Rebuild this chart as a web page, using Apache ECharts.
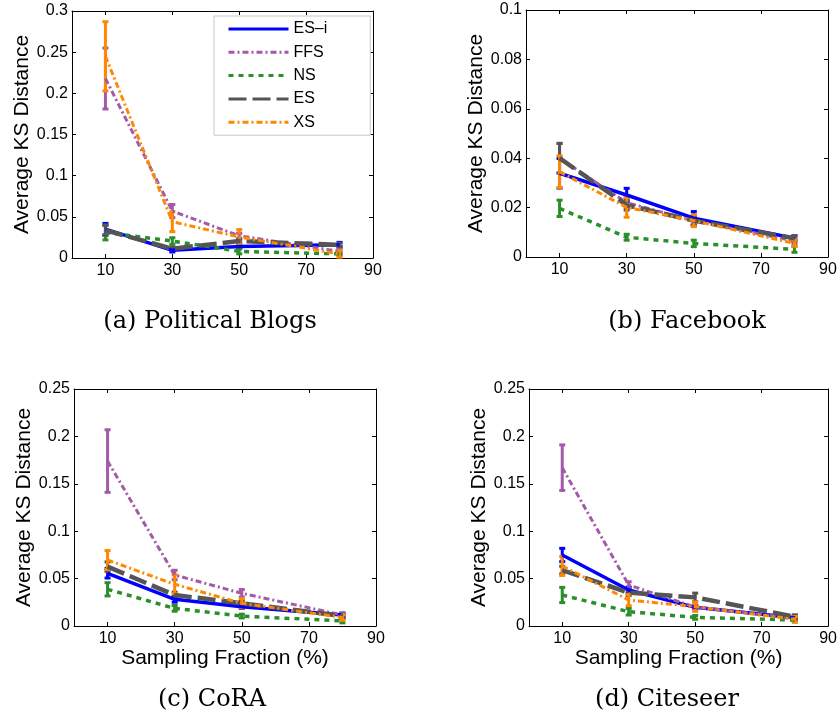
<!DOCTYPE html>
<html><head><meta charset="utf-8">
<script src="https://cdn.jsdelivr.net/npm/echarts@6/dist/echarts.min.js"></script>
<style>html,body{margin:0;padding:0;background:#fff}#c{width:840px;height:715px}</style>
</head><body><div id="c"></div>
<script>
// ---------- data ----------
const fractions = [10, 30, 50, 80];
const xTickValues = [10, 30, 50, 70, 90];
const seriesNames = ['ES–i', 'FFS', 'NS', 'ES', 'XS'];
const panelTitles = ['(a) Political Blogs', '(b) Facebook', '(c) CoRA', '(d) Citeseer'];
const yMaxes = [0.3, 0.1, 0.25, 0.25];
const yIntervals = [0.05, 0.02, 0.05, 0.05];

// (a) Political Blogs: mean values and error half-widths
const blogsESi = [0.035, 0.0093, 0.014, 0.016];
const blogsESiErr = [0.007, 0.002, 0.002, 0.003];
const blogsFFS = [0.218, 0.057, 0.027, 0.008];
const blogsFFSErr = [0.037, 0.008, 0.003, 0.003];
const blogsNS = [0.031, 0.0206, 0.008, 0.005];
const blogsNSErr = [0.009, 0.004, 0.003, 0.002];
const blogsES = [0.0336, 0.0113, 0.0206, 0.016];
const blogsESErr = [0.006, 0.002, 0.002, 0.002];
const blogsXS = [0.245, 0.044, 0.0255, 0.005];
const blogsXSErr = [0.042, 0.012, 0.009, 0.004];

// (b) Facebook
const fbESi = [0.0339, 0.0251, 0.0157, 0.0076];
const fbESiErr = [0.006, 0.0027, 0.0027, 0.001];
const fbFFS = [0.040, 0.022, 0.0147, 0.0065];
const fbFFSErr = [0.006, 0.002, 0.002, 0.001];
const fbNS = [0.0197, 0.008, 0.0055, 0.0031];
const fbNSErr = [0.0033, 0.0012, 0.0013, 0.0012];
const fbES = [0.040, 0.021, 0.0147, 0.0076];
const fbESErr = [0.006, 0.002, 0.002, 0.001];
const fbXS = [0.0345, 0.0201, 0.0147, 0.0055];
const fbXSErr = [0.0065, 0.004, 0.0024, 0.0013];

// (c) CoRA
const coraESi = [0.0556, 0.0281, 0.0204, 0.0116];
const coraESiErr = [0.005, 0.003, 0.002, 0.002];
const coraFFS = [0.174, 0.0538, 0.0345, 0.0116];
const coraFFSErr = [0.033, 0.005, 0.004, 0.002];
const coraNS = [0.0387, 0.0186, 0.0105, 0.0053];
const coraNSErr = [0.007, 0.003, 0.002, 0.002];
const coraES = [0.0626, 0.0327, 0.0239, 0.0105];
const coraESErr = [0.005, 0.003, 0.002, 0.002];
const coraXS = [0.0696, 0.044, 0.0239, 0.0091];
const coraXSErr = [0.01, 0.01, 0.005, 0.003];

// (d) Citeseer
const citeESi = [0.0749, 0.038, 0.0197, 0.0088];
const citeESiErr = [0.007, 0.003, 0.002, 0.002];
const citeFFS = [0.167, 0.0432, 0.020, 0.008];
const citeFFSErr = [0.024, 0.0035, 0.002, 0.002];
const citeNS = [0.0327, 0.0151, 0.0091, 0.0063];
const citeNSErr = [0.008, 0.0035, 0.002, 0.002];
const citeES = [0.059, 0.0352, 0.0302, 0.0098];
const citeESErr = [0.004, 0.003, 0.0045, 0.002];
const citeXS = [0.0633, 0.0274, 0.0204, 0.007];
const citeXSErr = [0.01, 0.006, 0.005, 0.003];

const panelValues = [
  [blogsESi, blogsFFS, blogsNS, blogsES, blogsXS],
  [fbESi, fbFFS, fbNS, fbES, fbXS],
  [coraESi, coraFFS, coraNS, coraES, coraXS],
  [citeESi, citeFFS, citeNS, citeES, citeXS]
];
const panelErrors = [
  [blogsESiErr, blogsFFSErr, blogsNSErr, blogsESErr, blogsXSErr],
  [fbESiErr, fbFFSErr, fbNSErr, fbESErr, fbXSErr],
  [coraESiErr, coraFFSErr, coraNSErr, coraESErr, coraXSErr],
  [citeESiErr, citeFFSErr, citeNSErr, citeESErr, citeXSErr]
];

// ---------- styling / layout ----------
const SANS = 'Liberation Sans, Arial, sans-serif';
const SERIF = 'DejaVu Serif, serif';
const styles = [
  {color: '#0000ff', width: 3.5, type: 'solid'},
  {color: '#a35aa8', width: 3, type: [6, 3, 2, 3]},
  {color: '#2a8f2a', width: 3.5, type: [5, 5]},
  {color: '#555555', width: 4.5, type: [18, 6]},
  {color: '#ff8800', width: 3, type: [6, 3, 2, 3]}
];
const grids = [
  {left: 72, top: 11, width: 301, height: 247},
  {left: 526, top: 10, width: 302, height: 247},
  {left: 74, top: 389, width: 302, height: 237},
  {left: 529, top: 389, width: 301, height: 237}
];
const titlePos = [[210, 322], [687, 322], [212, 700], [667, 700]];

const xAxes = [], yAxes = [], series = [], graphics = [];
grids.forEach((g, i) => {
  const showXName = i >= 2;
  xAxes.push({
    gridIndex: i, type: 'value', min: 0, max: 90, position: 'bottom',
    axisLine: {onZero: false, lineStyle: {color: '#000', width: 1}},
    axisTick: {inside: true, length: 4, customValues: xTickValues, lineStyle: {color: '#000'}},
    axisLabel: {customValues: xTickValues, fontSize: 16, color: '#000', margin: 5, fontFamily: SANS},
    splitLine: {show: false},
    name: showXName ? 'Sampling Fraction (%)' : '',
    nameLocation: 'middle', nameGap: 20,
    nameTextStyle: {fontSize: 21, color: '#000', fontFamily: SANS}
  });
  xAxes.push({
    gridIndex: i, type: 'value', min: 0, max: 90, position: 'top',
    axisLine: {onZero: false, lineStyle: {color: '#000', width: 1}},
    axisTick: {inside: true, length: 4, customValues: xTickValues, lineStyle: {color: '#000'}},
    axisLabel: {show: false}, splitLine: {show: false}
  });
  yAxes.push({
    gridIndex: i, type: 'value', min: 0, max: yMaxes[i], interval: yIntervals[i], position: 'left',
    axisLine: {show: true, onZero: false, lineStyle: {color: '#000', width: 1}},
    axisTick: {show: true, inside: true, length: 4, lineStyle: {color: '#000'}},
    axisLabel: {fontSize: 16, color: '#000', margin: 4, fontFamily: SANS},
    splitLine: {show: false},
    name: 'Average KS Distance', nameLocation: 'middle', nameGap: 38,
    nameTextStyle: {fontSize: 21, color: '#000', fontFamily: SANS}
  });
  yAxes.push({
    gridIndex: i, type: 'value', min: 0, max: yMaxes[i], interval: yIntervals[i], position: 'right',
    axisLine: {show: true, onZero: false, lineStyle: {color: '#000', width: 1}},
    axisTick: {show: true, inside: true, length: 4, lineStyle: {color: '#000'}},
    axisLabel: {show: false}, splitLine: {show: false}
  });
  seriesNames.forEach((nm, j) => {
    const st = styles[j];
    const vals = panelValues[i][j];
    const errs = panelErrors[i][j];
    series.push({
      type: 'line', name: nm, xAxisIndex: i * 2, yAxisIndex: i * 2,
      data: fractions.map((x, k) => [x, vals[k]]),
      symbol: 'none', silent: true, animation: false,
      lineStyle: {color: st.color, width: st.width, type: st.type},
      itemStyle: {color: st.color}
    });
    series.push({
      type: 'custom', xAxisIndex: i * 2, yAxisIndex: i * 2, silent: true, animation: false,
      data: fractions.map((x, k) => [x, vals[k], errs[k]]),
      encode: {x: 0, y: 1},
      renderItem: (params, api) => {
        const x = api.value(0), y = api.value(1), e = api.value(2);
        const p1 = api.coord([x, Math.max(0, y - e)]);
        const p2 = api.coord([x, y + e]);
        const cw = 3;
        const s = {stroke: st.color, lineWidth: 3};
        return {type: 'group', children: [
          {type: 'line', shape: {x1: p1[0], y1: p1[1], x2: p2[0], y2: p2[1]}, style: s},
          {type: 'line', shape: {x1: p1[0] - cw, y1: p1[1], x2: p1[0] + cw, y2: p1[1]}, style: s},
          {type: 'line', shape: {x1: p2[0] - cw, y1: p2[1], x2: p2[0] + cw, y2: p2[1]}, style: s}
        ]};
      }
    });
  });
  graphics.push({
    type: 'text', x: titlePos[i][0], y: titlePos[i][1],
    style: {text: panelTitles[i], font: '24px ' + SERIF, fill: '#000', textAlign: 'center', textVerticalAlign: 'middle'}
  });
});

const chart = echarts.init(document.getElementById('c'), null, {renderer: 'canvas'});
chart.setOption({
  backgroundColor: '#fff',
  animation: false,
  grid: grids.map(g => Object.assign({containLabel: false}, g)),
  xAxis: xAxes,
  yAxis: yAxes,
  series: series,
  graphic: graphics,
  legend: {
    data: seriesNames, orient: 'vertical', left: 214, top: 16,
    itemWidth: 60, itemHeight: 14, itemGap: 7.3,
    padding: [5, 43, 5, 13],
    backgroundColor: '#fff', borderColor: '#c8c8c8', borderWidth: 1,
    selectedMode: false,
    itemStyle: {opacity: 0, borderWidth: 0},
    lineStyle: {width: 3},
    textStyle: {fontSize: 16, color: '#000', fontFamily: SANS, padding: [0, 0, 0, 0]}
  }
});
</script></body></html>
